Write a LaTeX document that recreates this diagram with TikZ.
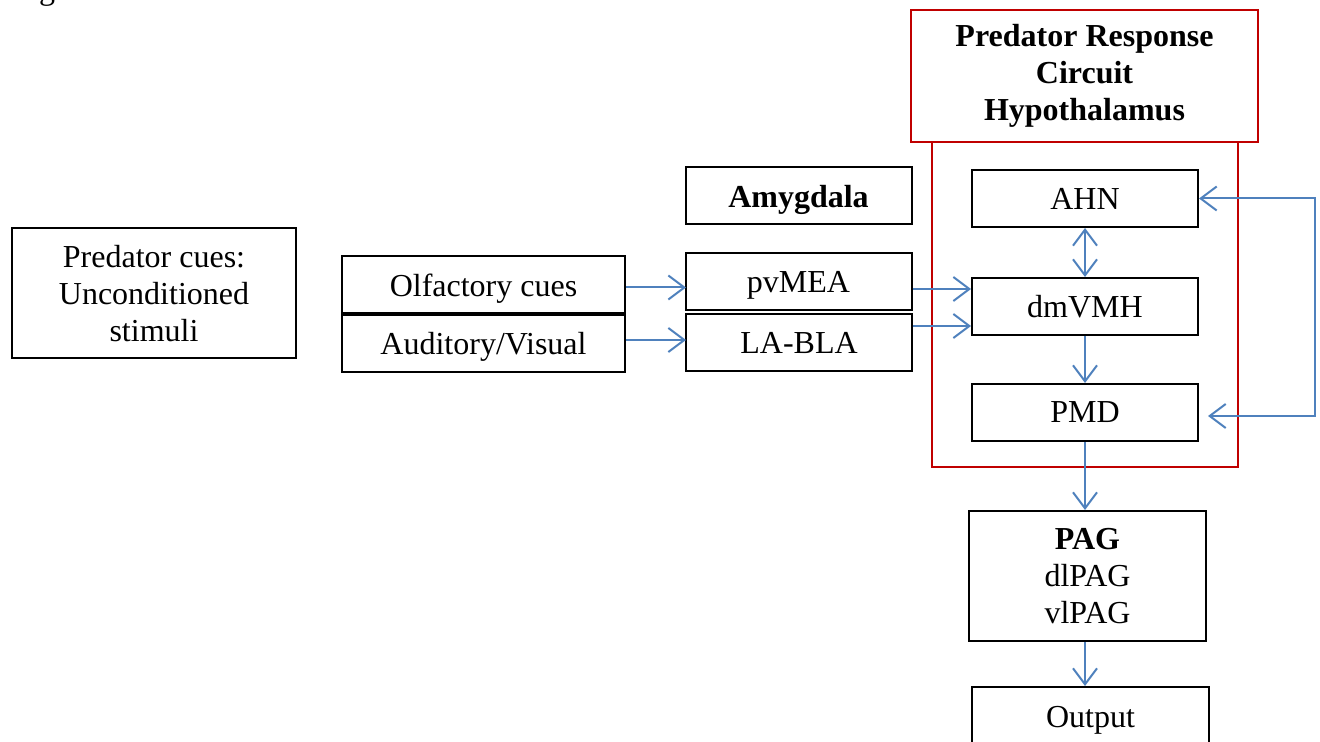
\documentclass[tikz,border=0pt]{standalone}
\usepackage{fontspec}
\setmainfont{Liberation Serif}
\usetikzlibrary{arrows.meta}

\begin{document}
\begin{tikzpicture}[x=0.5pt, y=-0.5pt,
        every node/.style={font=\fontsize{16}{18.5}\selectfont},
        flow/.style={draw={rgb,255:red,79;green,129;blue,189}, line width=1pt,
          arrows={-Straight Barb[length=8pt,width=12pt,line width=1pt]}},
        biflow/.style={flow,
          arrows={Straight Barb[length=8pt,width=12pt,line width=1pt]-Straight Barb[length=8pt,width=12pt,line width=1pt]}}]
      \tikzstyle{box} = [draw=black, line width=1pt, minimum width=113pt, minimum height=28.5pt, inner sep=2pt, text depth=0pt]
      \tikzstyle{redbox} = [draw={rgb,255:red,192;green,0;blue,0}, line width=1.3pt]
      \useasboundingbox (0,0) rectangle (1320,742);
      \node (fig) [anchor=base west, inner sep=0pt] at (12,0) {Figure 10};
      \node (cues) [box, minimum width=142pt, minimum height=65pt, align=center] at (154,293)
        {Predator cues:\\Unconditioned\\stimuli};
      \node (olf) [box, minimum width=141.5pt] at (483.5,285) {Olfactory cues};
      \node (aud) [box, minimum width=141.5pt] at (483.5,343.5) {Auditory/Visual};
      \node (amyg) [box] at (798.5,196) {\textbf{Amygdala}};
      \node (pvMEA) [box] at (798.5,282) {pvMEA};
      \node (LABLA) [box] at (799,343) {LA-BLA};
      \node (prc) [redbox, minimum width=173.5pt, minimum height=66pt, align=center] at (1084.5,76)
        {\textbf{Predator Response}\\\textbf{Circuit}\\\textbf{Hypothalamus}};
      \node (hypo) [redbox, minimum width=153pt, minimum height=162.5pt] at (1085,304.5) {};
      \node (AHN) [box] at (1085,198.5) {AHN};
      \node (dmVMH) [box] at (1085,306.5) {dmVMH};
      \node (PMD) [box] at (1085,412.5) {PMD};
      \node (PAG) [box, minimum width=118.5pt, minimum height=65pt, align=center] at (1087.5,576)
        {\textbf{PAG}\\dlPAG\\vlPAG};
      \node (out) [box, minimum width=118.5pt, minimum height=30pt, anchor=north] at (1090.5,686) {Output};
      \coordinate (loopR) at (1315,416);
      \draw[flow] (olf.east) ++(0,2.5) -- ++(60,0);
      \draw[flow] (aud.east) ++(0,-3.5) -- ++(60,0);
      \draw[flow] ([yshift=-3.5pt]pvMEA.east) -- ([yshift=8.75pt]dmVMH.west);
      \draw[flow] ([yshift=8.5pt]LABLA.east) -- ([yshift=-9.75pt]dmVMH.west);
      \draw[biflow] (AHN.south) -- (dmVMH.north);
      \draw[flow] (dmVMH.south) -- (PMD.north);
      \draw[flow] (PMD.south) -- (PMD.south |- PAG.north);
      \draw[flow] (PAG.south -| PMD.south) -- (PMD.south |- out.north);
      \draw[biflow, shorten >=4.5pt] (AHN.east) -| (loopR) -- (loopR -| PMD.east);
    \end{tikzpicture}
\end{document}
